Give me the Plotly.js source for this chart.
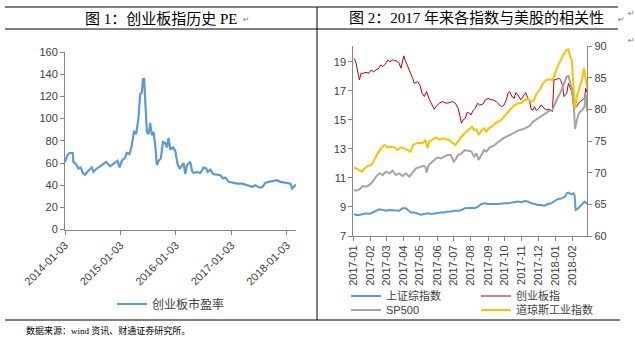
<!DOCTYPE html>
<html><head><meta charset="utf-8">
<script src="https://cdn.plot.ly/plotly-3.0.1.min.js"></script>
<style>html,body{margin:0;padding:0;background:#fff;}#chart{width:635px;height:349px;}</style>
</head><body><div id="chart"></div>
<script>
// ---------- Chart 1: 创业板市盈率 ----------
const peDates = ['2014-01-03','2014-01-18','2014-02-01','2014-02-23','2014-02-27','2014-03-17','2014-04-01','2014-04-16','2014-04-30','2014-05-15','2014-06-06','2014-06-28','2014-07-09','2014-07-31','2014-09-02','2014-10-01','2014-10-27','2014-11-14','2014-11-29','2014-12-14','2014-12-28','2015-01-12','2015-02-03','2015-02-14','2015-03-04','2015-03-19','2015-04-03','2015-04-17','2015-05-02','2015-05-13','2015-05-24','2015-05-31','2015-06-08','2015-06-15','2015-06-26','2015-07-07','2015-07-18','2015-07-29','2015-08-09','2015-08-20','2015-08-31','2015-09-11','2015-09-26','2015-10-10','2015-10-25','2015-11-05','2015-11-16','2015-11-27','2015-12-15','2015-12-30','2016-01-14','2016-01-28','2016-02-12','2016-02-23','2016-03-05','2016-03-16','2016-04-07','2016-04-18','2016-04-29','2016-05-21','2016-06-12','2016-07-04','2016-07-22','2016-07-30','2016-08-17','2016-09-04','2016-09-30','2016-10-22','2016-11-09','2016-11-24','2016-12-16','2017-01-07','2017-02-09','2017-03-14','2017-04-16','2017-05-19','2017-06-10','2017-07-02','2017-07-24','2017-08-15','2017-09-06','2017-10-09','2017-10-31','2017-11-22','2017-12-25','2018-01-27','2018-02-07','2018-02-18','2018-03-04'];
const peValues = [61,66.7,69,69,61,59,55,56,51,49.5,53,56,52,55,58,61,57,59,61,62,56,62,65,69,68,76,89,86,101,122,123.5,135.5,135.5,113,88,86,96,85,88,76,58,62,64,79,78,74,82.5,72,74,71,59,54.7,58,60,50,58,61,53,51,52,51,56,55,52,54,50,49.5,49,46,46.8,43,42.3,41.4,41.4,40,38.5,40,38,38,42.3,43,43.5,44.5,43,42.3,41.4,37,39,40.5];
const peName = '创业板市盈率';
const peTicks = ['2014-01-03','2015-01-03','2016-01-03','2017-01-03','2018-01-03'];

// ---------- Chart 2: 各指数 ----------
const szDates = ['2017-01-02','2017-01-06','2017-01-12','2017-01-18','2017-01-24','2017-01-30','2017-02-05','2017-02-11','2017-02-17','2017-02-23','2017-03-01','2017-03-07','2017-03-13','2017-03-19','2017-03-25','2017-03-31','2017-04-06','2017-04-11','2017-04-15','2017-04-21','2017-04-27','2017-05-03','2017-05-09','2017-05-15','2017-05-21','2017-05-27','2017-06-02','2017-06-08','2017-06-14','2017-06-20','2017-06-26','2017-07-02','2017-07-09','2017-07-15','2017-07-21','2017-07-27','2017-08-02','2017-08-08','2017-08-14','2017-08-20','2017-08-26','2017-09-01','2017-09-07','2017-09-13','2017-09-19','2017-09-25','2017-10-01','2017-10-07','2017-10-13','2017-10-19','2017-10-25','2017-10-31','2017-11-06','2017-11-12','2017-11-18','2017-11-24','2017-11-30','2017-12-06','2017-12-12','2017-12-18','2017-12-24','2017-12-31','2018-01-06','2018-01-12','2018-01-18','2018-01-21','2018-01-24','2018-01-29','2018-02-02','2018-02-04','2018-02-05','2018-02-06','2018-02-11','2018-02-17','2018-02-22','2018-02-27'];
const szValues = [8.52,8.45,8.45,8.52,8.56,8.52,8.61,8.72,8.84,8.79,8.74,8.79,8.77,8.79,8.74,8.91,8.91,8.74,8.61,8.61,8.56,8.47,8.52,8.56,8.52,8.56,8.56,8.61,8.61,8.68,8.68,8.74,8.74,8.79,8.91,8.95,8.95,8.91,9.02,9.2,9.25,9.2,9.18,9.2,9.2,9.25,9.25,9.25,9.3,9.32,9.37,9.32,9.41,9.37,9.25,9.2,9.13,9.13,9.09,9.2,9.25,9.43,9.55,9.59,9.71,9.94,9.98,9.87,9.94,9.82,8.91,8.79,8.91,9.13,9.37,9.2];
const szName = '上证综指数';

const cybDates = ['2017-01-02','2017-01-04','2017-01-06','2017-01-09','2017-01-12','2017-01-15','2017-01-19','2017-01-24','2017-01-29','2017-02-02','2017-02-06','2017-02-11','2017-02-16','2017-02-20','2017-02-23','2017-02-28','2017-03-04','2017-03-08','2017-03-13','2017-03-19','2017-03-24','2017-03-28','2017-03-31','2017-04-02','2017-04-05','2017-04-09','2017-04-14','2017-04-18','2017-04-21','2017-04-27','2017-05-01','2017-05-05','2017-05-09','2017-05-13','2017-05-18','2017-05-23','2017-05-27','2017-05-30','2017-06-05','2017-06-11','2017-06-17','2017-06-23','2017-06-29','2017-07-04','2017-07-09','2017-07-12','2017-07-15','2017-07-18','2017-07-22','2017-07-25','2017-07-30','2017-08-01','2017-08-05','2017-08-09','2017-08-13','2017-08-17','2017-08-23','2017-08-27','2017-09-01','2017-09-06','2017-09-10','2017-09-16','2017-09-19','2017-09-25','2017-09-30','2017-10-04','2017-10-07','2017-10-10','2017-10-14','2017-10-18','2017-10-21','2017-10-25','2017-10-30','2017-11-03','2017-11-08','2017-11-11','2017-11-15','2017-11-18','2017-11-21','2017-11-24','2017-11-27','2017-12-02','2017-12-06','2017-12-11','2017-12-15','2017-12-20','2017-12-23','2017-12-26','2017-12-28','2017-12-29','2018-01-03','2018-01-07','2018-01-10','2018-01-13','2018-01-16','2018-01-21','2018-01-24','2018-01-27','2018-01-30','2018-02-02','2018-02-05','2018-02-08','2018-02-11','2018-02-14','2018-02-18','2018-02-22','2018-02-24','2018-02-27'];
const cybValues = [19.24,19.12,18.9,18.3,17.74,18.2,18.2,18.27,18.2,18.43,18.3,18.43,18.55,18.78,18.66,18.85,19.12,19.0,19.12,19.07,18.94,18.55,19.12,19.4,19.07,18.7,18.3,17.86,17.51,17.63,17.4,16.83,16.6,16.94,16.41,16.02,15.72,15.9,16.14,16.25,16.14,16.18,16.25,16.14,15.8,15.33,14.76,14.99,15.1,15.5,15.45,15.33,15.63,15.8,16.14,16.02,16.09,16.37,16.48,16.37,16.37,16.25,16.14,15.9,16.02,16.37,16.83,16.94,16.6,16.48,16.87,16.71,16.37,16.6,16.87,16.55,16.25,15.72,15.68,15.9,15.63,15.8,16.02,15.8,15.68,15.72,15.68,15.56,16.83,17.74,17.79,17.86,17.74,17.4,16.6,16.83,17.51,17.17,16.94,16.02,15.8,15.9,16.14,16.25,16.37,16.48,17.17,16.83];
const cybName = '创业板指';

const spDates = ['2017-01-02','2017-01-06','2017-01-12','2017-01-18','2017-01-24','2017-01-30','2017-02-05','2017-02-11','2017-02-17','2017-02-23','2017-03-01','2017-03-07','2017-03-13','2017-03-19','2017-03-25','2017-03-31','2017-04-06','2017-04-12','2017-04-18','2017-04-24','2017-04-30','2017-05-06','2017-05-11','2017-05-13','2017-05-17','2017-05-21','2017-05-27','2017-06-02','2017-06-08','2017-06-14','2017-06-20','2017-06-26','2017-07-01','2017-07-04','2017-07-09','2017-07-15','2017-07-21','2017-07-27','2017-08-02','2017-08-07','2017-08-11','2017-08-15','2017-08-20','2017-08-25','2017-08-29','2017-09-04','2017-09-10','2017-09-16','2017-09-22','2017-09-28','2017-10-04','2017-10-10','2017-10-16','2017-10-22','2017-10-28','2017-11-03','2017-11-09','2017-11-15','2017-11-21','2017-11-27','2017-12-03','2017-12-09','2017-12-15','2017-12-21','2017-12-26','2017-12-31','2018-01-04','2018-01-09','2018-01-13','2018-01-16','2018-01-21','2018-01-24','2018-01-27','2018-01-30','2018-02-02','2018-02-05','2018-02-08','2018-02-11','2018-02-14','2018-02-18','2018-02-22','2018-02-24','2018-02-27'];
const spValues = [67.26,67.16,67.37,67.89,67.79,68.05,68.58,69.37,69.89,69.63,70.16,69.89,70.32,69.63,69.89,69.47,69.89,69.37,70.0,70.68,70.84,71.05,70.95,70.0,71.21,71.58,72.0,72.42,72.26,72.53,72.79,72.79,71.74,72.0,72.79,73.05,73.58,73.47,73.32,72.53,73.05,72.0,72.79,73.58,73.32,74.0,74.21,74.63,75.05,75.42,75.68,75.95,76.1,76.47,76.74,76.84,77.16,77.37,78.05,78.42,78.74,79.1,79.47,79.79,79.89,80.95,81.74,82.53,83.32,84.1,85.16,85.26,84.37,83.32,81.47,76.9,78.2,79.2,79.63,79.89,80.42,82.5,79.63];
const spName = 'SP500';

const djDates = ['2017-01-02','2017-01-06','2017-01-12','2017-01-17','2017-01-21','2017-01-27','2017-02-02','2017-02-08','2017-02-14','2017-02-20','2017-02-26','2017-03-04','2017-03-10','2017-03-16','2017-03-22','2017-03-28','2017-04-03','2017-04-09','2017-04-14','2017-04-19','2017-04-24','2017-04-30','2017-05-06','2017-05-11','2017-05-15','2017-05-18','2017-05-24','2017-05-30','2017-06-05','2017-06-11','2017-06-17','2017-06-23','2017-06-29','2017-07-04','2017-07-09','2017-07-15','2017-07-21','2017-07-27','2017-07-30','2017-08-03','2017-08-07','2017-08-11','2017-08-15','2017-08-20','2017-08-25','2017-08-29','2017-09-02','2017-09-08','2017-09-14','2017-09-19','2017-09-25','2017-10-01','2017-10-07','2017-10-13','2017-10-19','2017-10-25','2017-10-31','2017-11-06','2017-11-12','2017-11-18','2017-11-23','2017-11-27','2017-12-03','2017-12-09','2017-12-15','2017-12-21','2017-12-26','2017-12-29','2018-01-03','2018-01-07','2018-01-12','2018-01-16','2018-01-21','2018-01-24','2018-01-27','2018-01-30','2018-02-02','2018-02-05','2018-02-08','2018-02-11','2018-02-14','2018-02-18','2018-02-21','2018-02-23','2018-02-27'];
const djValues = [70.84,70.68,70.42,70.16,70.68,71.05,71.21,72.0,73.05,73.84,74.37,74.0,74.1,74.0,73.58,74.0,73.84,73.58,73.32,74.37,74.63,74.74,74.63,75.16,73.84,74.9,75.26,75.58,75.26,75.42,75.26,75.16,74.74,74.37,74.9,75.68,76.21,76.74,77.0,77.26,76.74,76.84,75.95,76.63,77.0,76.47,77.0,77.26,77.79,78.05,78.32,78.95,79.63,80.16,80.68,80.95,80.95,81.47,81.58,81.21,81.47,82.42,83.05,84.1,84.63,84.74,84.63,85.16,86.47,87.26,88.05,88.84,89.37,89.47,88.32,87.79,83.58,80.16,82.0,82.79,83.58,84.89,86.47,85.16,83.32];
const djName = '道琼斯工业指数';

// ---------- texts ----------
const title1 = '图 1：创业板指历史 PE';
const title2 = '图 2：2017 年来各指数与美股的相关性';
const sourceNote = '数据来源：wind 资讯、财通证券研究所。';

// ---------- layout helpers ----------
const W = 635, H = 349;
const px = x => x / W;
const py = y => 1 - y / H;
const tickFont = {family: 'Liberation Sans, Arial, sans-serif', size: 11, color: '#404040'};
const legFont1 = {family: 'Liberation Sans, Noto Sans CJK SC, sans-serif', size: 12, color: '#404040'};
const legFont2 = {family: 'Liberation Sans, Noto Sans CJK SC, sans-serif', size: 11, color: '#404040'};
const axisCommon = {showline: true, linecolor: '#868686', linewidth: 1, ticks: 'outside', ticklen: 4,
  tickcolor: '#868686', showgrid: false, zeroline: false, tickfont: tickFont, fixedrange: true};

const traces = [
  {x: peDates, y: peValues, name: peName, type: 'scatter', mode: 'lines', xaxis: 'x', yaxis: 'y',
   line: {color: '#5B9BD5', width: 2.2}, legend: 'legend'},
  {x: szDates, y: szValues, name: szName, type: 'scatter', mode: 'lines', xaxis: 'x2', yaxis: 'y2',
   line: {color: '#5B9BD5', width: 2}, legend: 'legend2'},
  {x: cybDates, y: cybValues, name: cybName, type: 'scatter', mode: 'lines', xaxis: 'x2', yaxis: 'y2',
   line: {color: '#C00000', width: 1}, legend: 'legend2'},
  {x: spDates, y: spValues, name: spName, type: 'scatter', mode: 'lines', xaxis: 'x2', yaxis: 'y3',
   line: {color: '#A5A5A5', width: 2}, legend: 'legend3'},
  {x: djDates, y: djValues, name: djName, type: 'scatter', mode: 'lines', xaxis: 'x2', yaxis: 'y3',
   line: {color: '#FFC000', width: 2}, legend: 'legend3'}
];

const lineStyle = {color: '#000', width: 1};
const layout = {
  width: W, height: H, margin: {l: 0, r: 0, t: 0, b: 0},
  paper_bgcolor: '#fff', plot_bgcolor: 'rgba(0,0,0,0)', showlegend: true,
  xaxis: Object.assign({}, axisCommon, {domain: [px(65), px(296)], anchor: 'y', type: 'date',
    range: ['2014-01-03', '2018-03-04'], tickmode: 'array', tickvals: peTicks, ticktext: peTicks, tickangle: -45}),
  yaxis: Object.assign({}, axisCommon, {domain: [py(229.6), py(52)], anchor: 'x', range: [0, 160], dtick: 20, tick0: 0}),
  xaxis2: Object.assign({}, axisCommon, {domain: [px(353.3), px(587.3)], anchor: 'y2', type: 'date',
    range: ['2017-01-01', '2018-02-27'], dtick: 'M1', tick0: '2017-01-01', tickformat: '%Y-%m', tickangle: -90}),
  yaxis2: Object.assign({}, axisCommon, {domain: [py(236), py(46)], anchor: 'x2', range: [7, 20.08], dtick: 2, tick0: 7}),
  yaxis3: Object.assign({}, axisCommon, {overlaying: 'y2', side: 'right', anchor: 'x2', range: [60, 90], dtick: 5, tick0: 60}),
  legend: {x: px(112), y: py(304), xanchor: 'left', yanchor: 'middle', orientation: 'h', font: legFont1, bgcolor: 'rgba(0,0,0,0)'},
  legend2: {x: px(346), y: py(296), xanchor: 'left', yanchor: 'middle', orientation: 'h', font: legFont2, bgcolor: 'rgba(0,0,0,0)', entrywidth: 85, entrywidthmode: 'pixels'},
  legend3: {x: px(346), y: py(310), xanchor: 'left', yanchor: 'middle', orientation: 'h', font: legFont2, bgcolor: 'rgba(0,0,0,0)', entrywidth: 85, entrywidthmode: 'pixels'},
  shapes: [
    {type: 'line', xref: 'paper', yref: 'paper', x0: px(5), x1: px(618), y0: py(7), y1: py(7), line: lineStyle},
    {type: 'line', xref: 'paper', yref: 'paper', x0: px(5), x1: px(618), y0: py(29), y1: py(29), line: lineStyle},
    {type: 'line', xref: 'paper', yref: 'paper', x0: px(5), x1: px(620), y0: py(320), y1: py(320), line: lineStyle},
    {type: 'line', xref: 'paper', yref: 'paper', x0: px(317), x1: px(317), y0: py(7), y1: py(320), line: lineStyle}
  ],
  annotations: [
    {text: title1, xref: 'paper', yref: 'paper', x: px(161), y: py(18), xanchor: 'center', yanchor: 'middle', showarrow: false,
     font: {family: 'Liberation Serif, Noto Sans CJK SC, serif', size: 15, color: '#000'}},
    {text: '↵', xref: 'paper', yref: 'paper', x: px(241), y: py(19), xanchor: 'left', yanchor: 'middle', showarrow: false,
     font: {family: 'DejaVu Sans', size: 8, color: '#777'}},
    {text: title2, xref: 'paper', yref: 'paper', x: px(476), y: py(18), xanchor: 'center', yanchor: 'middle', showarrow: false,
     font: {family: 'Liberation Serif, Noto Sans CJK SC, serif', size: 15, color: '#000'}},
    {text: '↵', xref: 'paper', yref: 'paper', x: px(616), y: py(19), xanchor: 'left', yanchor: 'middle', showarrow: false,
     font: {family: 'DejaVu Sans', size: 8, color: '#777'}},
    {text: '↵', xref: 'paper', yref: 'paper', x: px(626), y: py(13), xanchor: 'left', yanchor: 'middle', showarrow: false,
     font: {family: 'DejaVu Sans', size: 8, color: '#777'}},
    {text: '↵', xref: 'paper', yref: 'paper', x: px(626), y: py(40), xanchor: 'left', yanchor: 'middle', showarrow: false,
     font: {family: 'DejaVu Sans', size: 8, color: '#777'}},
    {text: sourceNote, xref: 'paper', yref: 'paper', x: px(24), y: py(330), xanchor: 'left', yanchor: 'middle', showarrow: false,
     font: {family: 'Liberation Serif, Noto Sans CJK SC, serif', size: 9, color: '#000'}}
  ]
};

Plotly.newPlot('chart', traces, layout, {displayModeBar: false, staticPlot: true});
</script></body></html>
